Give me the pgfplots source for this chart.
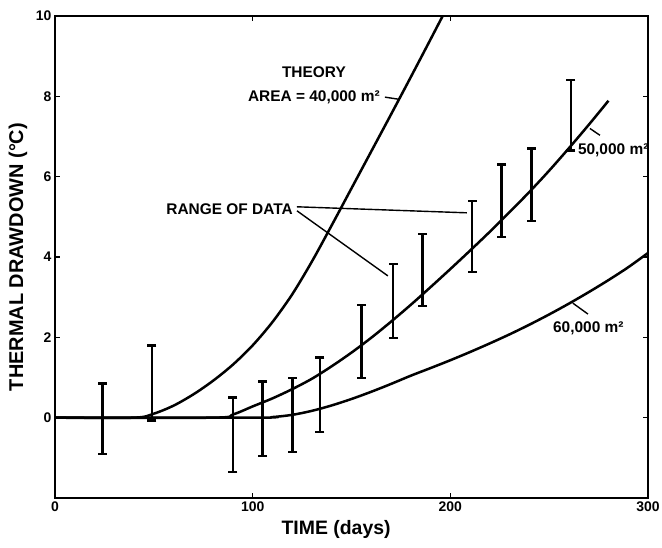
\documentclass[border=0pt]{standalone}
\usepackage{pgfplots}
\pgfplotsset{compat=1.18}
\usepackage{fontspec}
\setmainfont{Liberation Sans}

\begin{document}
\begin{tikzpicture}
\useasboundingbox (-55bp,-50bp) rectangle (607bp,498bp);
\begin{axis}[
  at={(0,0)}, anchor=south west,
  scale only axis, width=593bp, height=482bp,
  xmin=0, xmax=300, ymin=-2, ymax=10,
  xtick={0,100,200,300}, ytick={0,2,4,6,8,10},
  tick align=inside, major tick length=5bp,
  tick style={line width=1.5bp, black},
  axis line style={line width=2bp},
  /pgf/number format/assume math mode=true,
  tick label style={font=\fontsize{14}{16}\selectfont\bfseries},
  xlabel={TIME (days)},
  ylabel={THERMAL DRAWDOWN (°C)},
  xlabel style={font=\fontsize{19.5}{22}\selectfont\bfseries, at={(axis description cs:0.474,-0.066)}, anchor=center},
  ylabel style={font=\fontsize{20}{22}\selectfont\bfseries, at={(axis description cs:-0.0624,0.5)}, anchor=center},
  clip mode=individual,
]
% theory curves: 40,000, 50,000 and 60,000 m^2
\addplot[black, line width=2.5bp, smooth] coordinates {
(0,0)(40,0)(50,0.1)(60,0.3)(70,0.58)(80,0.92)(90,1.32)(100,1.8)(110,2.38)(120,3.07)(130,3.89)(140,4.79)(150,5.71)(160,6.63)(170,7.55)(180,8.48)(190,9.42)(200,10.37)(210,11.33)
};
\addplot[black, line width=2.5bp, smooth] coordinates {
(0,0)(80,0)(90,0.08)(100,0.28)(110,0.48)(120,0.71)(130,0.97)(140,1.28)(150,1.62)(160,1.99)(170,2.39)(180,2.81)(190,3.25)(200,3.7)(210,4.16)(220,4.63)(230,5.12)(240,5.62)(250,6.15)(260,6.71)(270,7.29)(280,7.89)
};
\addplot[black, line width=2.5bp, smooth] coordinates {
(0,0)(100,0)(110,0.015)(120,0.07)(130,0.17)(140,0.305)(150,0.465)(160,0.645)(170,0.84)(180,1.045)(190,1.235)(200,1.43)(210,1.635)(220,1.85)(230,2.075)(240,2.315)(250,2.57)(260,2.84)(270,3.125)(280,3.425)(290,3.745)(300,4.1)
};
% ranges of data (bottom, top of each bar)
\addplot[black, line width=2.6bp, unbounded coords=jump,
  mark=-, mark size=4.5bp, mark options={solid, line width=2.3bp}] coordinates {
(24,-0.9)(24,0.85)(24,nan)
(49,-0.07)(49,1.8)(49,nan)
(90,-1.35)(90,0.5)(90,nan)
(105,-0.95)(105,0.9)(105,nan)
(120,-0.85)(120,0.98)(120,nan)
(134,-0.35)(134,1.5)(134,nan)
(155,0.98)(155,2.8)(155,nan)
(171,1.98)(171,3.83)(171,nan)
(186,2.78)(186,4.58)(186,nan)
(211,3.62)(211,5.4)(211,nan)
(226,4.5)(226,6.3)(226,nan)
(241,4.9)(241,6.7)(241,nan)
(261,6.65)(261,8.4)
};
% annotations
\tikzset{lab/.style={font=\fontsize{15.5}{17}\selectfont\bfseries, inner sep=0pt}}
\node[lab, anchor=center] at (axis cs:131,8.6) {THEORY};
\node[lab, anchor=east] at (axis cs:164.4,7.98) {AREA = 40,000 m²};
\draw[line width=1.4bp] (axis cs:166.9,7.98) -- (axis cs:173.5,7.93);
\node[lab, anchor=east] at (axis cs:120.4,5.2) {RANGE OF DATA};
\draw[line width=1.4bp] (axis cs:122.4,5.25) -- (axis cs:208.4,5.1);
\draw[line width=1.4bp] (axis cs:122.4,5.15) -- (axis cs:168.4,3.53);
\node[lab, anchor=west] at (axis cs:264.5,6.65) {50,000 m²};
\draw[line width=1.4bp] (axis cs:270.6,7.2) -- (axis cs:275.7,7.03);
\node[lab, anchor=west] at (axis cs:251.9,2.23) {60,000 m²};
\draw[line width=1.4bp] (axis cs:262,2.85) -- (axis cs:269.6,2.58);
\end{axis}
\end{tikzpicture}
\end{document}
